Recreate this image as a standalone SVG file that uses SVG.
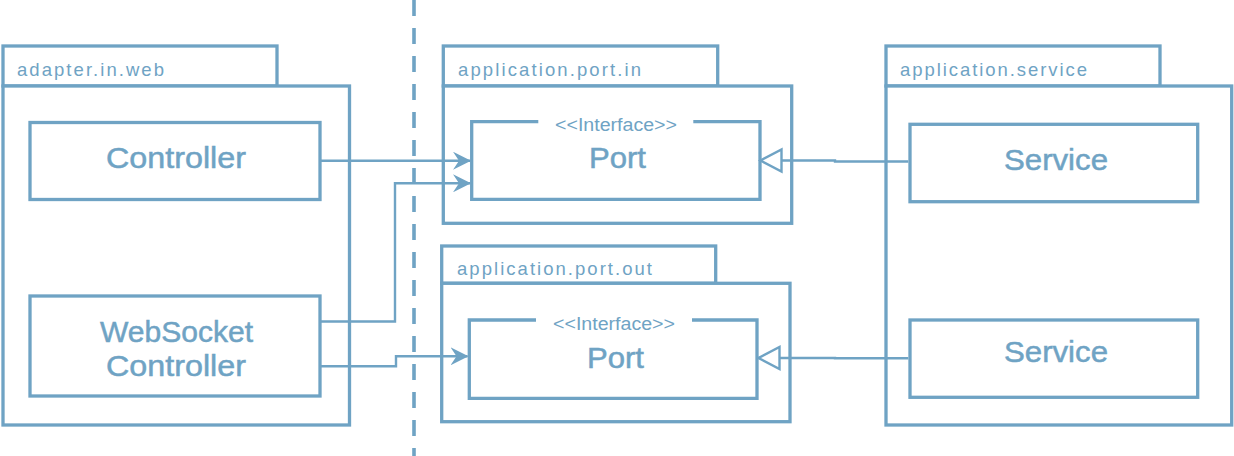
<svg xmlns="http://www.w3.org/2000/svg" width="1234" height="456" viewBox="0 0 1234 456">
<style>
.box{fill:none;stroke:#6fa3c4;stroke-width:3.3}
.pkg{fill:#fff;stroke:#6fa3c4;stroke-width:3.3}
.conn{fill:none;stroke:#6fa3c4;stroke-width:2.4}
.lbl{font-family:"Liberation Sans",Arial,sans-serif;font-size:18.5px;fill:#6fa3c4}
.name{font-family:"Liberation Sans",Arial,sans-serif;font-size:30px;fill:#6fa3c4;text-anchor:middle;stroke:#6fa3c4;stroke-width:0.5}
.ster{font-family:"Liberation Sans",Arial,sans-serif;font-size:17.5px;fill:#6fa3c4;text-anchor:middle}
</style>
<defs>
<marker id="arr" markerUnits="userSpaceOnUse" markerWidth="18" markerHeight="18" viewBox="0 0 18 18" refX="17" refY="9" orient="auto">
<path d="M0,0 L18,9 L0,18 L6,9 Z" fill="#6fa3c4"/>
</marker>
<marker id="tri" markerUnits="userSpaceOnUse" markerWidth="28" markerHeight="28" viewBox="0 0 28 28" refX="24" refY="14" orient="auto">
<path d="M24,14 L3,3 L3,25 Z" fill="#fff" stroke="#6fa3c4" stroke-width="2.4"/>
</marker>
</defs>
<rect width="1234" height="456" fill="#fff"/>
<line x1="414" y1="0" x2="414" y2="456" stroke="#6fa3c4" stroke-width="3.6" stroke-dasharray="16 12"/>

<g id="pkg-adapter">
<rect class="pkg" x="3" y="46" width="274" height="40"/>
<rect class="pkg" x="3" y="86" width="346.5" height="339"/>
<text class="lbl" x="17" y="76" textLength="147" lengthAdjust="spacing">adapter.in.web</text>
</g>
<g id="node-controller">
<rect class="box" x="30" y="122.5" width="290" height="77"/>
<text class="name" x="176" y="168" textLength="140" lengthAdjust="spacingAndGlyphs">Controller</text>
</g>
<g id="node-websocket">
<rect class="box" x="30" y="296" width="290" height="100"/>
<text class="name" x="176.5" y="342" textLength="153" lengthAdjust="spacingAndGlyphs">WebSocket</text>
<text class="name" x="176" y="376" textLength="140" lengthAdjust="spacingAndGlyphs">Controller</text>
</g>

<g id="pkg-port-in">
<rect class="pkg" x="443.3" y="46" width="274.4" height="40"/>
<rect class="pkg" x="443.3" y="86" width="348.4" height="137.3"/>
<text class="lbl" x="458" y="76" textLength="183" lengthAdjust="spacing">application.port.in</text>
</g>
<g id="node-port-in">
<path class="box" d="M538.3,121.7 H471.7 V199.3 H760 V121.7 H693.3"/>
<text class="ster" x="616" y="131" textLength="122" lengthAdjust="spacingAndGlyphs">&lt;&lt;Interface&gt;&gt;</text>
<text class="name" x="617.5" y="168" textLength="57" lengthAdjust="spacingAndGlyphs">Port</text>
</g>

<g id="pkg-port-out">
<rect class="pkg" x="441.7" y="246" width="274" height="37.3"/>
<rect class="pkg" x="441.7" y="283.3" width="348.3" height="138.4"/>
<text class="lbl" x="457" y="275" textLength="195" lengthAdjust="spacing">application.port.out</text>
</g>
<g id="node-port-out">
<path class="box" d="M536,320 H469.3 V398.3 H757 V320 H692"/>
<text class="ster" x="614" y="330" textLength="122" lengthAdjust="spacingAndGlyphs">&lt;&lt;Interface&gt;&gt;</text>
<text class="name" x="615.5" y="368" textLength="57" lengthAdjust="spacingAndGlyphs">Port</text>
</g>

<g id="pkg-service">
<rect class="pkg" x="886" y="46" width="274" height="40"/>
<rect class="pkg" x="886" y="86" width="345.7" height="339"/>
<text class="lbl" x="900" y="76" textLength="187" lengthAdjust="spacing">application.service</text>
</g>
<g id="node-service-1">
<rect class="box" x="910" y="124.3" width="287.7" height="77.4"/>
<text class="name" x="1056" y="170" textLength="104" lengthAdjust="spacingAndGlyphs">Service</text>
</g>
<g id="node-service-2">
<rect class="box" x="910" y="320" width="287.7" height="77.3"/>
<text class="name" x="1056" y="362" textLength="104" lengthAdjust="spacingAndGlyphs">Service</text>
</g>

<g id="connectors">
<path class="conn" d="M320,160.7 H470" marker-end="url(#arr)"/>
<path class="conn" d="M320,321.5 H395 V183.3 H470" marker-end="url(#arr)"/>
<path class="conn" d="M320,366.3 H396 V356.3 H467.5" marker-end="url(#arr)"/>
<path class="conn" d="M908.3,161.5 H835 V160.5 H760.5" marker-end="url(#tri)"/>
<path class="conn" d="M908.3,358.3 H835 V358 H758.5" marker-end="url(#tri)"/>
</g>
</svg>
